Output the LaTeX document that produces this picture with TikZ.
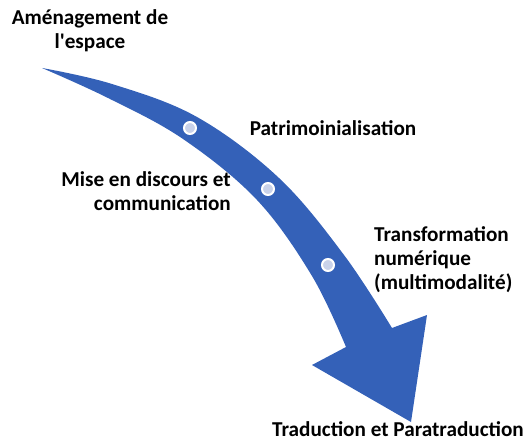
\documentclass[tikz,border=0pt]{standalone}
\usepackage{fontspec}
\setmainfont{Carlito}
\definecolor{arrowblue}{HTML}{3461B8}
\definecolor{dotfill}{HTML}{C9D2EA}

\begin{document}
\begin{tikzpicture}[x=1pt,y=-1pt,
    label/.style={font=\fontsize{21.2}{24}\selectfont\bfseries, inner sep=0pt},
    dot/.style={circle, fill=dotfill, draw=white, line width=2pt, minimum size=12pt, inner sep=0pt}]
  \useasboundingbox (0,0) rectangle (529,441);
  % the curved arrow
  \fill[arrowblue] plot[smooth, tension=0.6] coordinates
      {(42,68) (112,84) (197,117) (279,178) (344,255) (392,328)}
    -- (427,315) -- (411,422) -- (312,365) -- (346,347)
    -- plot[smooth, tension=0.6] coordinates
      {(346,347) (312,276) (257,200) (183,139) (108,98) (42,68)} -- cycle;
  % steps on the arrow
  \node[dot] (d1) at (190,128) {};
  \node[dot] (d2) at (268,189) {};
  \node[dot] (d3) at (328,265) {};
  % labels
  \node[label, align=center] (amenage) at (90,31) {Aménagement de\\l\textquotesingle espace};
  \node[label] (patri) at (333,128) {Patrimoinialisation};
  \node[label, align=right, anchor=east] (discours) at (231,191) {Mise en discours et\\communication};
  \node[label, align=left, anchor=west] (transfo) at (374,260) {Transformation\\numérique\\(multimodalité)};
  \node[label] (trad) at (398,429) {Traduction et Paratraduction};
\end{tikzpicture}
\end{document}
